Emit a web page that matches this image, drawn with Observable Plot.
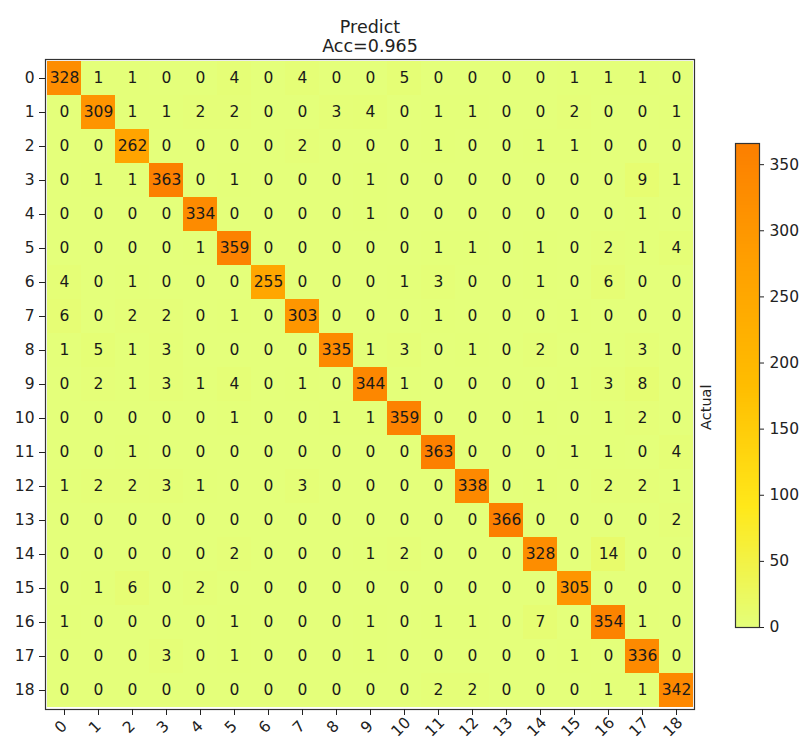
<!DOCTYPE html>
<html><head><meta charset="utf-8">
<script src="https://cdn.jsdelivr.net/npm/d3@7"></script>
<script src="https://cdn.jsdelivr.net/npm/@observablehq/plot@0.6"></script>
<style>
html,body{margin:0;padding:0;background:#fff;}
#fig{position:relative;width:802px;height:742px;font-family:"DejaVu Sans",sans-serif;}
#fig svg{position:absolute;top:0;left:0;}
</style></head><body><div id="fig"></div>
<script>
// ---- data ----
const labels = ["0","1","2","3","4","5","6","7","8","9","10","11","12","13","14","15","16","17","18"];
const counts = [
  [328,1,1,0,0,4,0,4,0,0,5,0,0,0,0,1,1,1,0],
  [0,309,1,1,2,2,0,0,3,4,0,1,1,0,0,2,0,0,1],
  [0,0,262,0,0,0,0,2,0,0,0,1,0,0,1,1,0,0,0],
  [0,1,1,363,0,1,0,0,0,1,0,0,0,0,0,0,0,9,1],
  [0,0,0,0,334,0,0,0,0,1,0,0,0,0,0,0,0,1,0],
  [0,0,0,0,1,359,0,0,0,0,0,1,1,0,1,0,2,1,4],
  [4,0,1,0,0,0,255,0,0,0,1,3,0,0,1,0,6,0,0],
  [6,0,2,2,0,1,0,303,0,0,0,1,0,0,0,1,0,0,0],
  [1,5,1,3,0,0,0,0,335,1,3,0,1,0,2,0,1,3,0],
  [0,2,1,3,1,4,0,1,0,344,1,0,0,0,0,1,3,8,0],
  [0,0,0,0,0,1,0,0,1,1,359,0,0,0,1,0,1,2,0],
  [0,0,1,0,0,0,0,0,0,0,0,363,0,0,0,1,1,0,4],
  [1,2,2,3,1,0,0,3,0,0,0,0,338,0,1,0,2,2,1],
  [0,0,0,0,0,0,0,0,0,0,0,0,0,366,0,0,0,0,2],
  [0,0,0,0,0,2,0,0,0,1,2,0,0,0,328,0,14,0,0],
  [0,1,6,0,2,0,0,0,0,0,0,0,0,0,0,305,0,0,0],
  [1,0,0,0,0,1,0,0,0,1,0,1,1,0,7,0,354,1,0],
  [0,0,0,3,0,1,0,0,0,1,0,0,0,0,0,1,0,336,0],
  [0,0,0,0,0,0,0,0,0,0,0,2,2,0,0,0,1,1,342]
];
const titleLines = ["Predict", "Acc=0.965"];
const yTitle = "Actual";
const colorTicks = [0,50,100,150,200,250,300,350];
const colorMax = 366;
const wistia = ["#e4ff7a","#ffe81a","#ffbd00","#ffa000","#fc7f00"];

// ---- build ----
const cells = counts.flatMap((row, i) => row.map((v, j) => ({actual: labels[i], predict: labels[j], value: v})));
const colorScale = {type: "linear", domain: [0, colorMax], interpolate: d3.piecewise(d3.interpolateRgb, wistia)};
const font = "DejaVu Sans, sans-serif";

const main = Plot.plot({
  width: 802, height: 742,
  marginTop: 59, marginLeft: 45, marginRight: 108, marginBottom: 33,
  style: {fontFamily: font, fontSize: "15px", color: "#222", background: "transparent", overflow: "visible"},
  x: {domain: labels, padding: 0},
  y: {domain: labels, padding: 0},
  color: colorScale,
  marks: [
    Plot.cell(cells, {x: "predict", y: "actual", fill: "value", inset: 0}),
    Plot.text(cells, {x: "predict", y: "actual", text: d => String(d.value), fill: "#1a1a1a", fontSize: 15.5}),
    Plot.frame({stroke: "#333", strokeWidth: 1.2}),
    Plot.axisY({tickSize: 6, tickPadding: 5, fontSize: 15.5, label: null}),
    Plot.axisX({anchor: "bottom", tickSize: 6, tickFormat: () => "", label: null}),
    Plot.text(labels, {x: d => d, frameAnchor: "bottom", dy: 21, rotate: -45, fontSize: 15.5, fill: "#222"}),
    Plot.text([titleLines[0]], {frameAnchor: "top", dy: -27, lineAnchor: "bottom", fontSize: 17.5, fill: "#222"}),
    Plot.text([titleLines[1]], {frameAnchor: "top", dy: -8, lineAnchor: "bottom", fontSize: 17.5, fill: "#222"}),
    Plot.text([yTitle], {frameAnchor: "right", dx: 12, rotate: -90, fontSize: 14.5, fill: "#222"})
  ]
});

const bar = Plot.plot({
  width: 802, height: 742,
  marginTop: 143, marginBottom: 115, marginLeft: 735, marginRight: 43,
  style: {fontFamily: font, fontSize: "15px", color: "#222", background: "transparent", overflow: "visible"},
  x: {domain: [0, 1], axis: null},
  y: {domain: [0, colorMax]},
  color: colorScale,
  marks: [
    Plot.raster({x1: 0, x2: 1, y1: 0, y2: colorMax, width: 1, height: 400, fill: (x, y) => y}),
    Plot.frame({stroke: "#333", strokeWidth: 1.2}),
    Plot.axisY({anchor: "right", ticks: colorTicks, tickSize: 4, tickPadding: 6, fontSize: 15.5, label: null})
  ]
});

const fig = document.getElementById("fig");
fig.appendChild(main);
fig.appendChild(bar);
</script></body></html>
